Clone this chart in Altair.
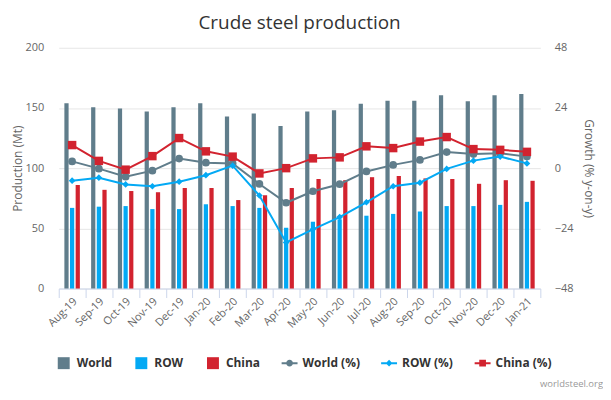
import altair as alt
import pandas as pd

months = ["Aug-19", "Sep-19", "Oct-19", "Nov-19", "Dec-19", "Jan-20", "Feb-20", "Mar-20", "Apr-20",
          "May-20", "Jun-20", "Jul-20", "Aug-20", "Sep-20", "Oct-20", "Nov-20", "Dec-20", "Jan-21"]
world = [154, 150.5, 149.5, 147, 150.5, 154, 143, 145.5, 135, 147, 148, 153.5, 156, 156, 160.5, 155.5, 160.5, 161.5]
row = [67, 68, 68.5, 66, 66, 70, 68.5, 67, 50.5, 55.5, 57.5, 60.5, 62, 64, 68.5, 68.5, 69.5, 72]
china = [86, 82, 81, 80, 83.5, 83.5, 73.5, 77.5, 83.5, 91, 90, 92.5, 93.5, 91.5, 91, 87, 90, 89.5]
world_pct = [2.7, -0.2, -3.4, -1.0, 3.8, 2.2, 1.9, -6.3, -13.8, -9.2, -6.4, -1.3, 1.3, 3.3, 6.4, 5.6, 5.9, 4.6]
row_pct = [-5.0, -3.8, -6.5, -7.2, -5.4, -2.8, 1.0, -10.9, -29.6, -24.4, -19.5, -13.6, -7.2, -5.8, -0.3, 3.0, 4.6, 1.9]
china_pct = [9.2, 2.9, -0.6, 4.8, 12.0, 6.7, 4.6, -2.1, 0.0, 3.9, 4.3, 8.7, 8.0, 10.6, 12.4, 7.6, 7.3, 6.5]

bar_series = ["World", "ROW", "China"]
line_series = ["World (%)", "ROW (%)", "China (%)"]
all_series = bar_series + line_series
base_colors = ["#607d8b", "#03a9f4", "#d2232f"]
left_ticks = [0, 50, 100, 150, 200]
right_ticks = [-48, -24, 0, 24, 48]

bar_df = pd.DataFrame({
    "month": months * 3,
    "series": [s for s in bar_series for _ in months],
    "value": world + row + china,
})
line_df = pd.DataFrame({
    "month": months * 3,
    "series": [s for s in line_series for _ in months],
    "value": world_pct + row_pct + china_pct,
})
legend_df = pd.DataFrame({"series": all_series})

FONT = "Open Sans"
W, H = 484, 242

color_scale = alt.Scale(domain=all_series, range=base_colors + base_colors)

# legend symbol shapes: squares for bars, line + marker for line series
sq = "M-0.75,-0.75H0.75V0.75H-0.75Z"
bar_line = "M-1,-0.125H1V0.125H-1Z"
legend_shapes = [
    sq, sq, sq,
    bar_line + "M-0.42,0A0.42,0.42 0 1 1 0.42,0A0.42,0.42 0 1 1 -0.42,0Z",
    bar_line + "M0,-0.42L0.42,0L0,0.42L-0.42,0Z",
    bar_line + "M-0.42,-0.42H0.42V0.42H-0.42Z",
]

legend = alt.Legend(
    title=None, orient="none", legendX=-3, legendY=309, direction="horizontal",
    symbolSize=256, labelFontSize=12, labelFontWeight="bold", labelColor="#333333",
    labelFont=FONT, columnPadding=21, labelOffset=5, symbolStrokeWidth=0,
    symbolOpacity=1,
)

x_axis = alt.Axis(
    labelAngle=-45, labelAlign="right", labelBaseline="middle", tickBand="extent",
    tickSize=9, tickColor="#ccd6eb", domainColor="#ccd6eb", labelColor="#666666",
    labelFontSize=11, labelPadding=2, grid=False, title=None, labelOffset=3,
)
x_enc = alt.X("month:N", sort=months, title=None,
              scale=alt.Scale(paddingInner=0, paddingOuter=0), axis=x_axis)

left_axis = alt.Axis(
    values=left_ticks, title="Production (Mt)", grid=True, gridColor="#e6e6e6",
    ticks=False, domain=False, labelPadding=15, labelColor="#666666", labelFontSize=11,
    titleColor="#666666", titleFontSize=12, titleFontWeight="normal",
    titleX=-41, titleY=H / 2, titleAngle=-90, titleAlign="center", titleBaseline="middle",
)
right_axis = alt.Axis(
    orient="right", values=right_ticks, title="Growth (% y-on-y)", grid=False,
    ticks=False, domain=False, labelPadding=14, labelColor="#666666", labelFontSize=11,
    titleColor="#666666", titleFontSize=12, titleFontWeight="normal",
    titleX=48, titleY=H / 2, titleAngle=90, titleAlign="center", titleBaseline="middle",
)
right_scale = alt.Scale(domain=[-48, 48], nice=False)

bars = alt.Chart(bar_df).mark_bar().encode(
    x=x_enc,
    xOffset=alt.XOffset("series:N", sort=bar_series,
                        scale=alt.Scale(paddingInner=0.25, paddingOuter=1)),
    y=alt.Y("value:Q", scale=alt.Scale(domain=[0, 200], nice=False), axis=left_axis),
    color=alt.Color("series:N", scale=color_scale, legend=legend),
)

line_base = alt.Chart(line_df).encode(
    x=alt.X("month:N", sort=months),
    y=alt.Y("value:Q", scale=right_scale, axis=right_axis),
    color=alt.Color("series:N", scale=color_scale, legend=legend),
)
lines = line_base.mark_line(strokeWidth=2)
pts_world = line_base.transform_filter(alt.datum.series == "World (%)").mark_point(
    shape="circle", size=60, filled=True, opacity=1)
pts_row = line_base.transform_filter(alt.datum.series == "ROW (%)").mark_point(
    shape="diamond", size=45, filled=True, opacity=1)
pts_china = line_base.transform_filter(alt.datum.series == "China (%)").mark_point(
    shape="square", size=72, filled=True, opacity=1)

legend_layer = alt.Chart(legend_df).transform_filter("false").mark_point(
    filled=True, opacity=1
).encode(
    color=alt.Color("series:N", scale=color_scale, legend=legend),
    shape=alt.Shape("series:N", scale=alt.Scale(domain=all_series, range=legend_shapes),
                    legend=legend),
)

credits = alt.Chart(pd.DataFrame({"t": ["worldsteel.org"]})).mark_text(
    align="right", baseline="alphabetic", fontSize=9.5, color="#999999", font=FONT
).encode(x=alt.value(547), y=alt.value(341), text="t:N")

chart = alt.layer(
    bars,
    alt.layer(lines, pts_world, pts_row, pts_china),
    legend_layer,
    credits,
).resolve_scale(y="independent").properties(
    width=W, height=H,
    padding={"left": 4, "top": 5, "right": 0, "bottom": 0},
    title=alt.Title("Crude steel production", fontSize=19, font=FONT, fontWeight="normal",
                    color="#333333", anchor="middle", offset=9),
).configure(font=FONT).configure_view(stroke=None)

chart.save("out.html", embed_options={"renderer": "svg", "actions": False})
